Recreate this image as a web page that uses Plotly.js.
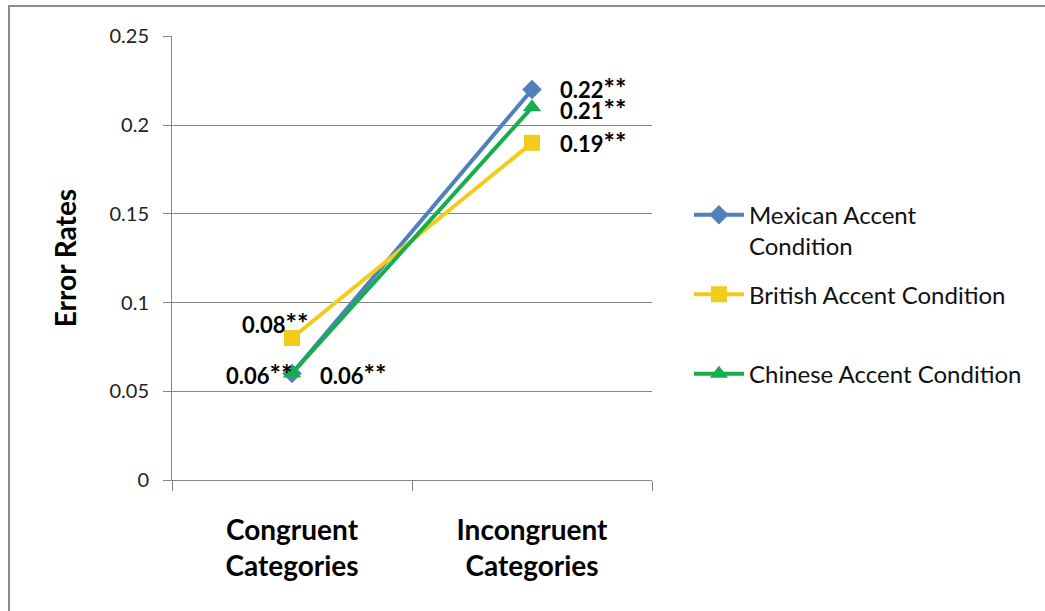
<!DOCTYPE html>
<html>
<head>
<meta charset="utf-8">
<script src="https://cdn.plot.ly/plotly-3.0.1.min.js"></script>
<style>
html,body{margin:0;padding:0;overflow:hidden;background:#fff;}
#frame{position:absolute;left:8px;top:5px;width:3000px;height:3000px;border-left:2px solid #8c8c8c;border-top:2px solid #8c8c8c;pointer-events:none;}
#chart{position:absolute;left:0;top:0;width:1045px;height:611px;}
</style>
</head>
<body>
<div id="chart"></div>
<div id="frame"></div>
<script>
var categories = ["Congruent<br>Categories", "Incongruent<br>Categories"];
var seriesNames = ["Mexican Accent<br>Condition", "British Accent Condition<br> ", "Chinese Accent Condition<br> "];
var mexican = [0.06, 0.22];
var british = [0.08, 0.19];
var chinese = [0.06, 0.21];
var yTickVals = [0, 0.05, 0.1, 0.15, 0.2, 0.25];
var yTickText = ["0", "0.05", "0.1", "0.15", "0.2", "0.25"];

var FONT = "Lato, 'Open Sans', sans-serif";
var colors = ["#4F81BD", "#F2CB1B", "#16AD4C"];
var symbols = ["diamond", "square", "triangle-up"];
var sizes = [15, 16, 16];
var allSeries = [mexican, british, chinese];
// label offsets in pixels [xshift, yshift] per series per point (style only)
var labelShift = [
  [[-33, 0], [61, 2]],
  [[-17, 16], [61, 1]],
  [[61, 0], [61, -1]]
];

function labelText(v){
  return "<b>" + v.toFixed(2) + "<span style='font-size:27px'>**</span></b>";
}

var traces = allSeries.map(function(vals, s){
  return {
    x: categories, y: vals, name: seriesNames[s], type: "scatter", mode: "lines+markers",
    line: {color: colors[s], width: 4},
    marker: {symbol: symbols[s], size: sizes[s], color: colors[s]},
    legendgroup: "g" + s, cliponaxis: false
  };
});

var annotations = [];
allSeries.forEach(function(vals, s){
  vals.forEach(function(v, i){
    annotations.push({
      x: categories[i], y: v, xref: "x", yref: "y",
      text: labelText(v), showarrow: false,
      xshift: labelShift[s][i][0], yshift: labelShift[s][i][1],
      font: {family: FONT, size: 22, color: "#000"}
    });
  });
});

var layout = {
  width: 1045, height: 611,
  margin: {l: 172, r: 393, t: 36, b: 131},
  paper_bgcolor: "rgba(0,0,0,0)", plot_bgcolor: "rgba(0,0,0,0)",
  font: {family: FONT, color: "#000"},
  showlegend: true,
  annotations: annotations,
  legend: {
    x: 1.077, xref: "paper", xanchor: "left", y: 0.647, yanchor: "top",
    font: {family: FONT, size: 24, color: "#111"},
    valign: "top", tracegroupgap: 14, itemwidth: 50,
    bgcolor: "rgba(0,0,0,0)"
  },
  xaxis: {
    type: "category", range: [-0.5, 1.5],
    showline: true, linecolor: "#868686", linewidth: 1,
    ticks: "outside", tickson: "boundaries", ticklen: 10, tickcolor: "#868686",
    showgrid: false, zeroline: false,
    ticklabelstandoff: 25,
    tickfont: {family: FONT, size: 28, color: "#000", weight: "bold"}
  },
  yaxis: {
    range: [0, 0.2502], tickvals: yTickVals, ticktext: yTickText,
    showline: true, linecolor: "#868686", linewidth: 1,
    ticks: "outside", ticklen: 8, tickcolor: "#868686",
    showgrid: true, gridcolor: "#868686", gridwidth: 1, zeroline: false,
    ticklabelstandoff: 10,
    tickfont: {family: FONT, size: 20, color: "#222"},
    title: {text: "<b>Error Rates</b>", font: {family: FONT, size: 28, color: "#000"}, standoff: 24}
  }
};

Plotly.newPlot("chart", traces, layout, {displayModeBar: false, staticPlot: true});
</script>
</body>
</html>
